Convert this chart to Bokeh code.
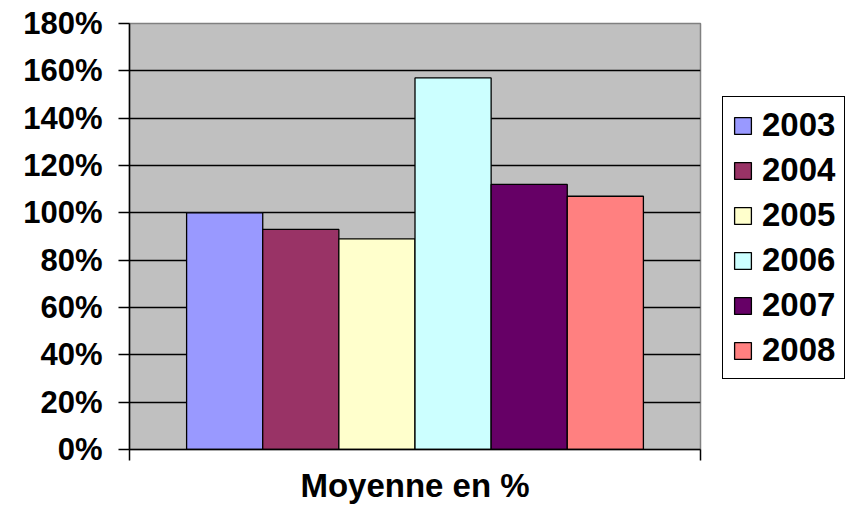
from bokeh.plotting import figure
from bokeh.models import (Range1d, FixedTicker, NumeralTickFormatter,
                          Legend, LegendItem, ColumnDataSource)
from bokeh.embed import file_html
from bokeh.resources import INLINE

years = ["2003", "2004", "2005", "2006", "2007", "2008"]
values = [1.00, 0.93, 0.89, 1.57, 1.12, 1.07]
colors = ["#9999FF", "#993366", "#FFFFCC", "#CCFFFF", "#660066", "#FF8080"]
y_ticks = [0, 0.2, 0.4, 0.6, 0.8, 1.0, 1.2, 1.4, 1.6, 1.8]
x_title = "Moyenne en %"

FONT = "Liberation Sans"

n = len(years)
gap = 0.75  # outer gap on each side, in bar widths (Excel gap width 150%)
xpos = [gap + 0.5 + i for i in range(n)]
x_end = n + 2 * gap

p = figure(frame_width=571, frame_height=426, output_backend="svg", toolbar_location=None,
           x_range=Range1d(0, x_end), y_range=Range1d(0, 1.8),
           min_border_left=129, min_border_right=146, min_border_top=23, min_border_bottom=55)

p.background_fill_color = "#C0C0C0"
p.border_fill_color = "white"
p.outline_line_color = "#808080"
p.outline_line_width = 1.5

src = ColumnDataSource(dict(x=xpos, top=values, color=colors, year=years))
r = p.vbar(x="x", top="top", width=1.0, bottom=0, source=src, fill_color="color",
           line_color="black", line_width=1.3)

# y axis
ya = p.yaxis[0]
ya.ticker = FixedTicker(ticks=y_ticks)
ya.formatter = NumeralTickFormatter(format="0%")
ya.major_label_text_font = FONT
ya.major_label_text_font_style = "bold"
ya.major_label_text_font_size = "31px"
ya.major_label_text_color = "black"
ya.major_tick_out = 11
ya.major_tick_in = 0
ya.minor_tick_out = 0
ya.minor_tick_in = 0
ya.major_label_standoff = 16
ya.axis_line_color = "black"
ya.axis_line_width = 1.5
ya.major_tick_line_width = 1.5

p.ygrid.ticker = FixedTicker(ticks=y_ticks)
p.ygrid.grid_line_color = "black"
p.ygrid.grid_line_width = 1.3
p.xgrid.grid_line_color = None

# x axis: ticks only at the category edges, axis title below
xa = p.xaxis[0]
xa.ticker = FixedTicker(ticks=[0, x_end])
xa.major_label_overrides = {0: "", x_end: ""}
xa.major_label_text_font_size = "0px"
xa.major_label_standoff = 0
xa.axis_label = x_title
xa.axis_label_text_font = FONT
xa.axis_label_text_font_style = "bold"
xa.axis_label_text_font_size = "33px"
xa.axis_label_text_color = "black"
xa.axis_label_standoff = 6
xa.major_tick_out = 11
xa.major_tick_in = 0
xa.minor_tick_out = 0
xa.minor_tick_in = 0
xa.axis_line_color = "black"
xa.axis_line_width = 1.5
xa.major_tick_line_width = 1.5

# legend in the right-hand panel
items = [LegendItem(label=y, renderers=[r], index=i) for i, y in enumerate(years)]
legend = Legend(items=items, location=(22, 70), orientation="vertical",
                label_text_font=FONT, label_text_font_style="bold",
                label_text_font_size="33px", label_text_color="black",
                glyph_width=21, glyph_height=21, label_standoff=9,
                padding=9, spacing=7, margin=0,
                border_line_color="black", border_line_width=1.5, border_line_alpha=1.0,
                background_fill_color="white", background_fill_alpha=1.0)
p.add_layout(legend, "right")

open("out.html", "w").write(file_html(p, INLINE))
